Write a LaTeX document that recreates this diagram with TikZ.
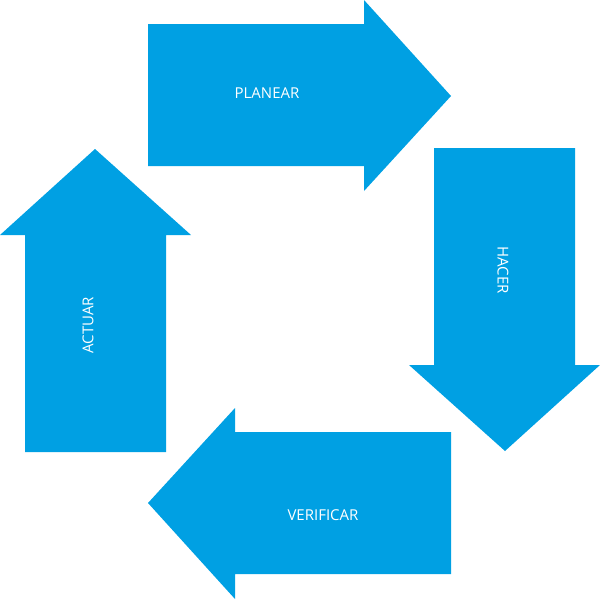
\documentclass[tikz,border=0pt]{standalone}
\usepackage{fontspec}
\setmainfont{Open Sans}
\definecolor{pdca}{HTML}{00A0E3}
\begin{document}
\begin{tikzpicture}[x=1pt,y=-1pt,
  arr/.style={fill=pdca,draw=none},
  lbl/.style={text=white,font=\fontsize{15}{18}\selectfont}]
\useasboundingbox (0,0) rectangle (600,600);
% PLANEAR
\fill[arr] (148,24) -- (364,24) -- (364,0) -- (451,96) -- (364,191) -- (364,166) -- (148,166) -- cycle;
% HACER
\fill[arr] (434,148) -- (575,148) -- (575,365) -- (600,365) -- (505,451) -- (409,365) -- (434,365) -- cycle;
% VERIFICAR
\fill[arr] (451,432) -- (451,574) -- (235,574) -- (235,599) -- (148,503) -- (235,408) -- (235,432) -- cycle;
% ACTUAR
\fill[arr] (25,452) -- (166,452) -- (166,235) -- (191,235) -- (95,149) -- (0,235) -- (25,235) -- cycle;
\node[lbl] (p) at (267,93) {PLANEAR};
\node[lbl,rotate=-90] (h) at (503,270) {HACER};
\node[lbl] (v) at (323,515) {VERIFICAR};
\node[lbl,rotate=90] (a) at (88,325) {ACTUAR};
\end{tikzpicture}
\end{document}
